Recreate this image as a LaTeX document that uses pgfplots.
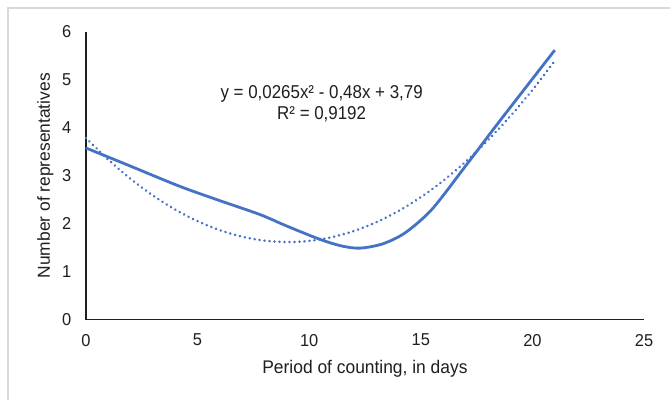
\documentclass[border=0pt]{standalone}
\usepackage{pgfplots}
\pgfplotsset{compat=1.18}
\usepackage{graphicx}
\usepackage{fontspec}
\setmainfont{Liberation Sans}
\definecolor{xlblue}{HTML}{4472C4}
\definecolor{framegray}{HTML}{D9D9D9}
\definecolor{txt}{HTML}{1F1F1F}
\newcommand\vs[1]{\scalebox{1}[1.05]{#1}}
\begin{document}
\begin{tikzpicture}[x=1bp,y=1bp]
\path[fill=white] (0,0) rectangle (671,401);
\draw[framegray, line width=2bp] (8.5,0) -- (8.5,392.5) -- (671,392.5);
\begin{axis}[
  at={(86bp,81bp)}, anchor=south west,
  scale only axis, width=559bp, height=288bp,
  xmin=0, xmax=25, ymin=0, ymax=6,
  xtick={0,5,10,15,20,25}, ytick={0,1,2,3,4,5,6},
  axis x line=bottom, axis y line=left,
  axis line style={line width=1.4bp, color=txt, -},
  major tick length=0pt,
  /pgf/number format/assume math mode=true,
  tick label style={font=\fontsize{16.5}{19}\selectfont, color=txt},
  xticklabel={\fontsize{16.5}{19}\selectfont\vs{\pgfmathprintnumber[assume math mode=true]{\tick}}},
  yticklabel={\fontsize{16.5}{19}\selectfont\vs{\pgfmathprintnumber[assume math mode=true]{\tick}}},
  xticklabel style={anchor=north, yshift=-11bp},
  yticklabel style={anchor=east, xshift=-11bp},
  xlabel={\vs{Period of counting, in days}},
  ylabel={Number of representatives},
  label style={font=\fontsize{17.5}{20}\selectfont, color=txt},
  xlabel style={at={(axis description cs:0.5,0)}, anchor=north, yshift=-37bp},
  ylabel style={at={(axis description cs:0,0.5)}, anchor=south, yshift=29bp},
  clip=false,
]
\addplot[xlblue, line width=2.8bp, smooth, tension=0.5] coordinates {
(0,3.58) (2,3.2) (4.2,2.78) (6,2.48) (7.8,2.19) (9,1.95) (10.5,1.67)
(11.5,1.53) (12.3,1.49) (13.3,1.58) (14.3,1.81) (15.5,2.3) (17,3.2)
(18.5,4.12) (21,5.62)
};
\addplot[xlblue, line width=2.8bp, dash pattern=on 0.01bp off 5bp, line cap=round, smooth] coordinates {
(0,3.79) (1,3.3365) (2,2.936) (3,2.5885) (4,2.294) (5,2.0525) (6,1.864)
(7,1.7285) (8,1.646) (9,1.6165) (10,1.64) (11,1.7165) (12,1.846)
(13,2.0285) (14,2.264) (15,2.5525) (16,2.894) (17,3.2885) (18,3.736)
(19,4.2365) (20,4.79) (21,5.3965)
};
\node[font=\fontsize{17}{21}\selectfont, color=txt, align=center, anchor=north] at (axis cs:10.56,4.95)
  {\scalebox{1}[1.1]{y = 0,0265x² - 0,48x + 3,79}\\\scalebox{1}[1.1]{R² = 0,9192}};
\end{axis}
\end{tikzpicture}
\end{document}
